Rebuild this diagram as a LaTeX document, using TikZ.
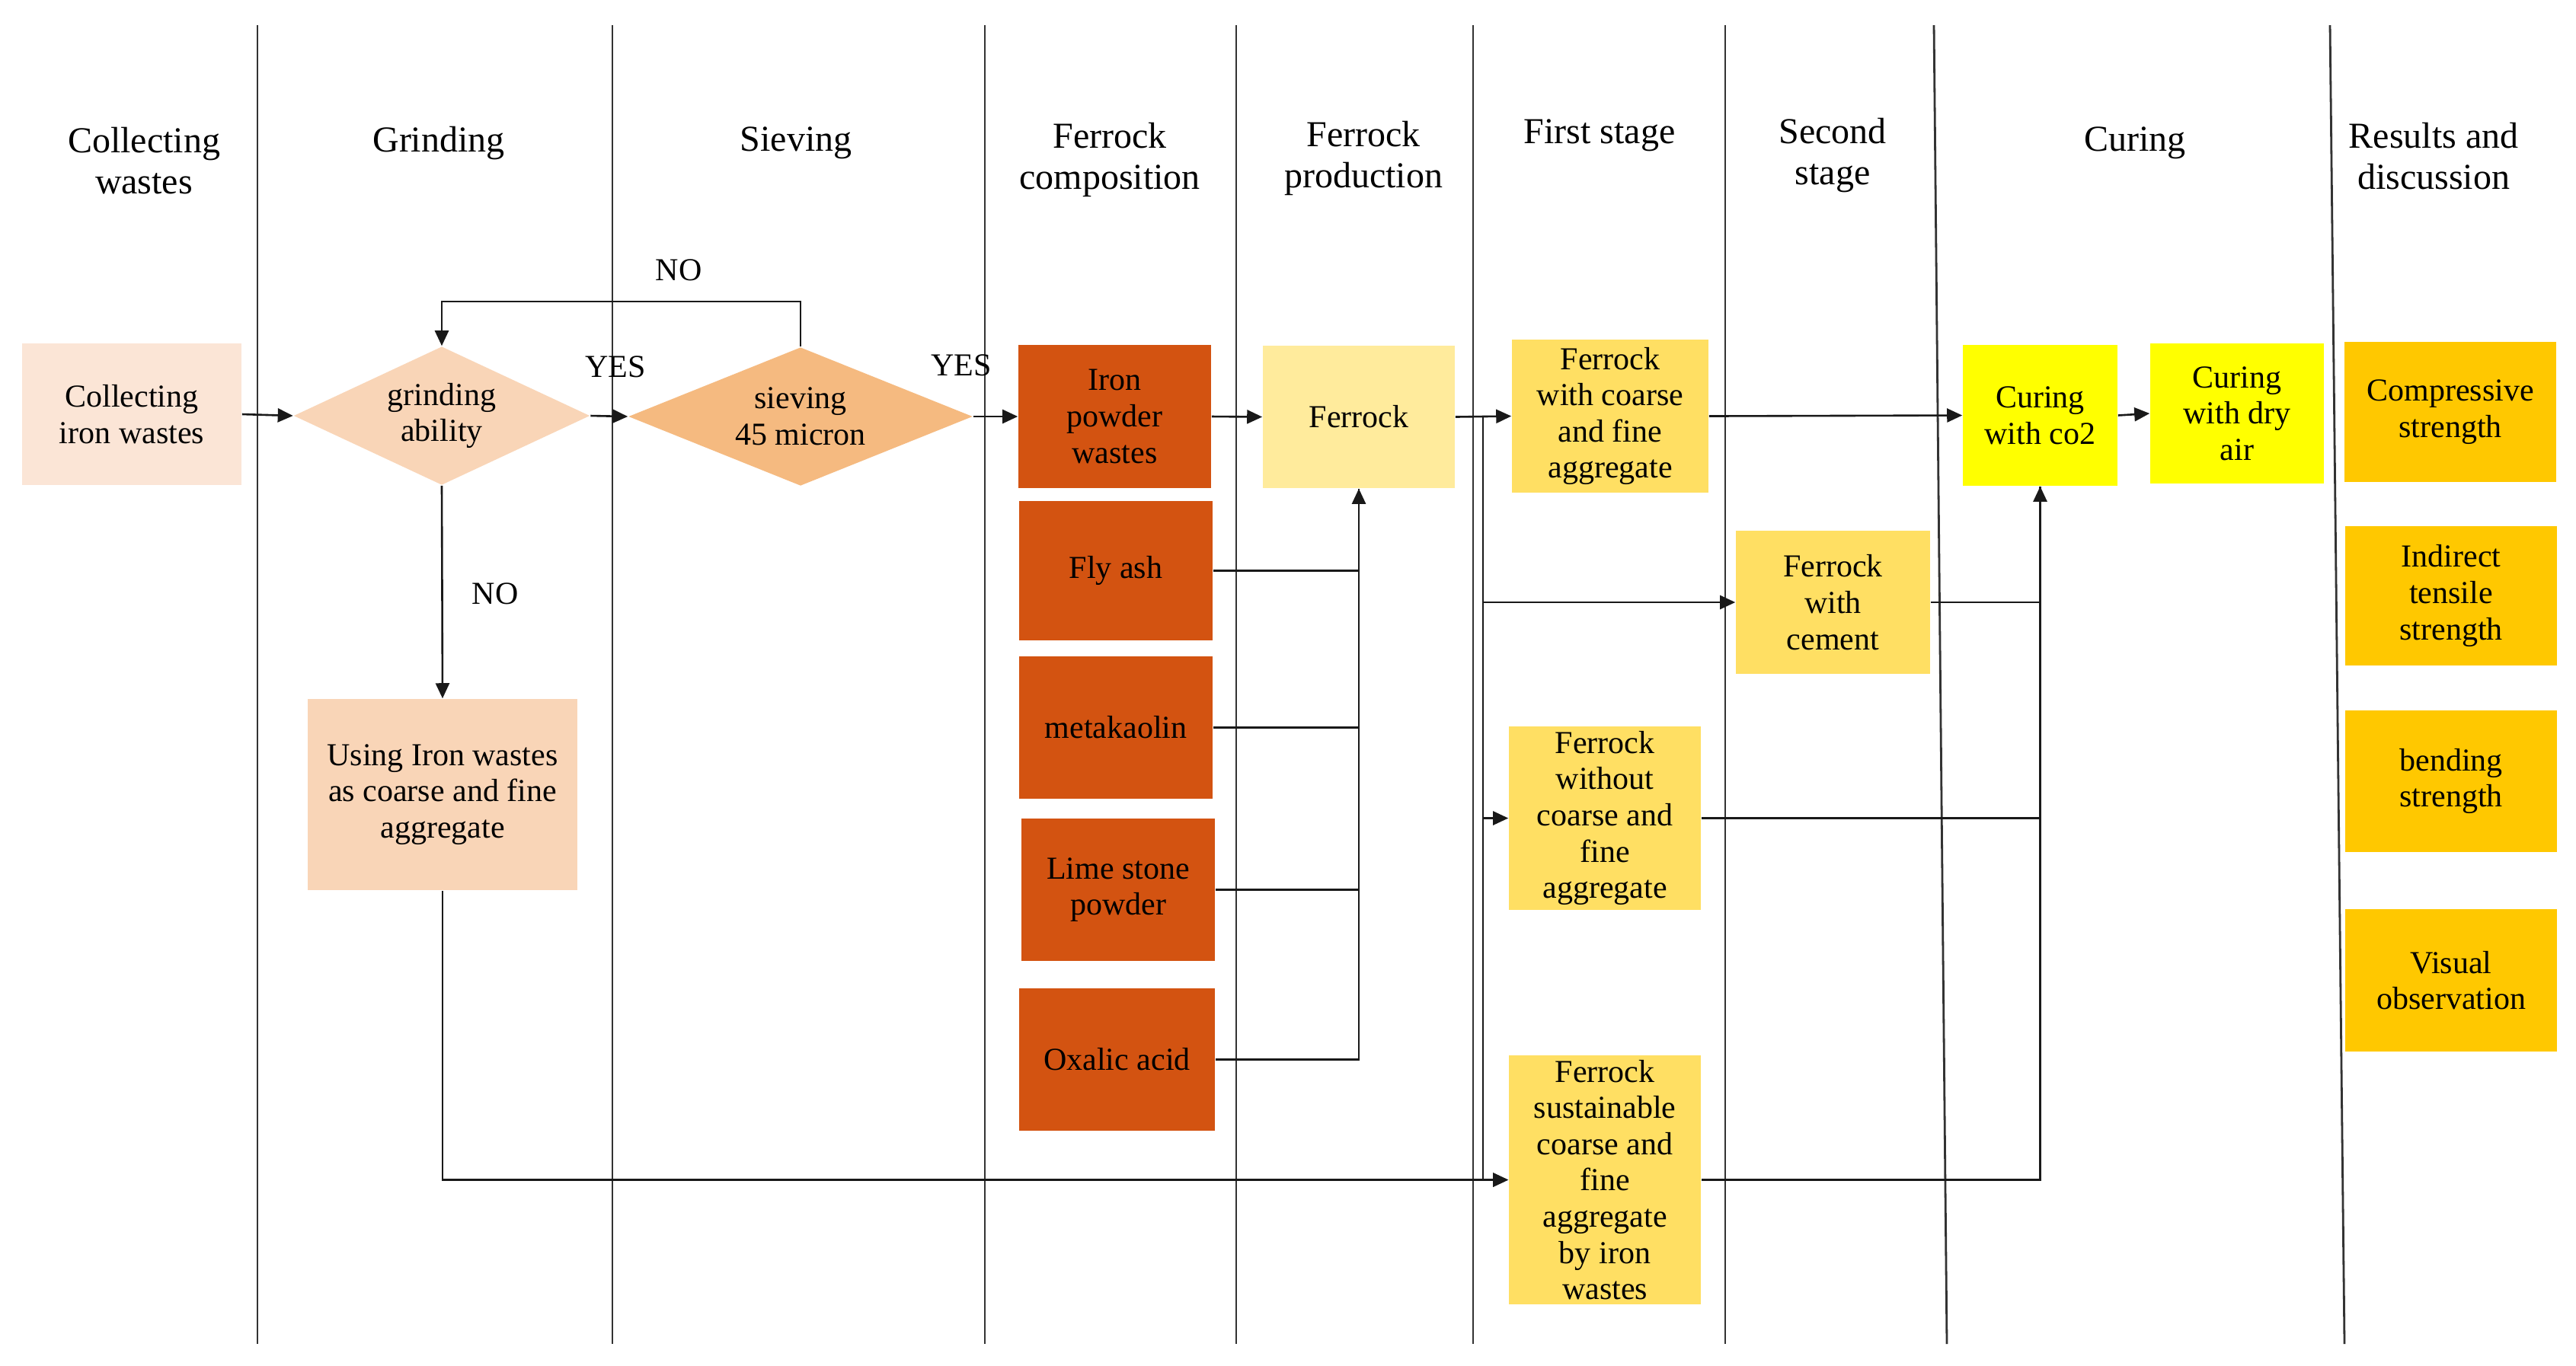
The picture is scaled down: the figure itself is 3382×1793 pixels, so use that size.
\documentclass[tikz,border=0pt]{standalone}
\usepackage{fontspec}
\setmainfont{Liberation Serif}
\usetikzlibrary{arrows.meta,shapes.geometric}
\definecolor{cPeach}{HTML}{FBE5D6}
\definecolor{cPeachB}{HTML}{F9D5B7}
\definecolor{cSieve}{HTML}{F5BA80}
\definecolor{cRust}{HTML}{D35311}
\definecolor{cPale}{HTML}{FFEB9C}
\definecolor{cGold}{HTML}{FFDF63}
\definecolor{cYel}{HTML}{FFFF00}
\definecolor{cAmber}{HTML}{FFC800}
\begin{document}
\begin{tikzpicture}[x=0.25pt,y=-0.25pt,
  box/.style={rectangle, inner sep=0pt, align=center, font=\fontsize{10.5}{11.9}\selectfont, text=black},
  dia/.style={diamond, inner sep=0pt, align=center, font=\fontsize{10.5}{11.9}\selectfont},
  hdr/.style={align=center, font=\fontsize{12}{13.5}\selectfont, inner sep=0pt},
  lbl/.style={font=\fontsize{10.5}{12}\selectfont, inner sep=0pt},
  colline/.style={line width=0.7pt, draw=black!80},
  con/.style={line width=0.65pt, draw=black!90},
  arr/.style={con, -{Triangle[length=5pt,width=4.5pt]}},
]
\fill[white] (0,0) rectangle (3382,1793);
\useasboundingbox (0,0) rectangle (3382,1793);

% column lines
\draw[colline] (338,33) -- (338,1765);
\draw[colline] (804,33) -- (804,1765);
\draw[colline] (1293,33) -- (1293,1765);
\draw[colline] (1623,33) -- (1623,1765);
\draw[colline] (1934,33) -- (1934,1765);
\draw[colline] (2265,33) -- (2265,1765);
\draw[colline] (2539,33) -- (2556,1765);
\draw[colline] (3059,33) -- (3078,1765);

% headers
\node[hdr] (h1) at (189,211) {Collecting\\wastes};
\node[hdr] (h2) at (576,188) {Grinding};
\node[hdr] (h3) at (1045,188) {Sieving};
\node[hdr] (h4) at (1457,210) {Ferrock\\composition};
\node[hdr] (h5) at (1790,208) {Ferrock\\production};
\node[hdr] (h6) at (2100,178) {First stage};
\node[hdr] (h7) at (2406,204) {Second\\stage};
\node[hdr] (h8) at (2803,188) {Curing};
\node[hdr] (h9) at (3195,205) {Results and\\discussion};

% nodes
\node[box, fill=cPeach, minimum width=72pt, minimum height=46.5pt] (collect) at (173,544) {Collecting\\iron wastes};
\node[dia, fill=cPeachB, aspect=2.14, minimum width=97.25pt, minimum height=45.5pt] (grind) at (580,546) {grinding\\ability};
\node[dia, fill=cSieve, aspect=2.48, minimum width=113pt, minimum height=45.5pt] (sieve) at (1051,547) {sieving\\45 micron};
\node[box, fill=cPeachB, minimum width=88.5pt, minimum height=62.75pt] (using) at (581,1043.5) {Using Iron wastes\\as coarse and fine\\aggregate};

\node[box, fill=cRust, minimum width=63.25pt, minimum height=47pt] (iron) at (1463.5,547) {Iron\\powder\\wastes};
\node[box, fill=cRust, minimum width=63.5pt, minimum height=45.75pt] (flyash) at (1465,749.5) {Fly ash};
\node[box, fill=cRust, minimum width=63.5pt, minimum height=46.75pt] (meta) at (1465,955.5) {metakaolin};
\node[box, fill=cRust, minimum width=63.5pt, minimum height=46.75pt] (lime) at (1468,1168.5) {Lime stone\\powder};
\node[box, fill=cRust, minimum width=64.25pt, minimum height=46.75pt] (oxalic) at (1466.5,1391.5) {Oxalic acid};

\node[box, fill=cPale, minimum width=63pt, minimum height=46.75pt] (ferrock) at (1784,547.5) {Ferrock};

\node[box, fill=cGold, minimum width=64.5pt, minimum height=50.25pt] (wcoarse) at (2114,546.5) {Ferrock\\with coarse\\and fine\\aggregate};
\node[box, fill=cGold, minimum width=63.75pt, minimum height=47pt] (cement) at (2406.5,791) {Ferrock\\with\\cement};
\node[box, fill=cGold, minimum width=63pt, minimum height=60.25pt] (without) at (2107,1074.5) {Ferrock\\without\\coarse and\\fine\\aggregate};
\node[box, fill=cGold, minimum width=63pt, minimum height=81.75pt] (sustain) at (2107,1549.5) {Ferrock\\sustainable\\coarse and\\fine\\aggregate\\by iron\\wastes};

\node[box, fill=cYel, minimum width=50.75pt, minimum height=46.25pt] (co2) at (2678.5,545.5) {Curing\\with co2};
\node[box, fill=cYel, minimum width=57pt, minimum height=46pt] (dryair) at (2937,543) {Curing\\with dry\\air};

\node[box, fill=cAmber, minimum width=69.5pt, minimum height=46pt] (comp) at (3217,541) {Compressive\\strength};
\node[box, fill=cAmber, minimum width=69.5pt, minimum height=45.75pt] (indirect) at (3218,782.5) {Indirect\\tensile\\strength};
\node[box, fill=cAmber, minimum width=69.5pt, minimum height=46.5pt] (bending) at (3218,1026) {bending\\strength};
\node[box, fill=cAmber, minimum width=69.5pt, minimum height=46.75pt] (visual) at (3218,1287.5) {Visual\\observation};

% labels
\node[lbl] (no1) at (891,355) {NO};
\node[lbl] (yes1) at (808,482) {YES};
\node[lbl] (yes2) at (1262,480) {YES};
\node[lbl] (no2) at (650,780) {NO};

% connectors
\coordinate (loopy) at (0,396);
\coordinate (br) at (1947,547.5);

\draw[arr] (collect.east) -- (grind.west);
\draw[arr] (grind.east) -- (sieve.west);
\draw[arr] (sieve.east) -- (iron.west);
\draw[arr] (sieve.north) -- (sieve.north |- loopy) -| (grind.north);
\draw[arr] (grind.south) -- (using.north);
\draw[arr] (using.south) |- (sustain.west);

\draw[arr] (iron.east) -- (ferrock.west);
\draw[arr] (flyash.east) -| (ferrock.south);
\draw[con] (meta.east) -| (ferrock.south);
\draw[con] (lime.east) -| (ferrock.south);
\draw[con] (oxalic.east) -| (ferrock.south);

\draw[arr] (ferrock.east) -- (wcoarse.west);
\draw[con] (br) -- (br |- sustain.west);
\draw[arr] (br |- cement.west) -- (cement.west);
\draw[arr] (br |- without.west) -- (without.west);
\draw[arr] (br |- sustain.west) -- (sustain.west);

\draw[arr] (wcoarse.east) -- (co2.west);
\draw[arr] (co2.east) -- (dryair.west);
\draw[arr] (cement.east) -| (co2.south);
\draw[con] (without.east) -| (co2.south);
\draw[con] (sustain.east) -| (co2.south);
\end{tikzpicture}
\end{document}
